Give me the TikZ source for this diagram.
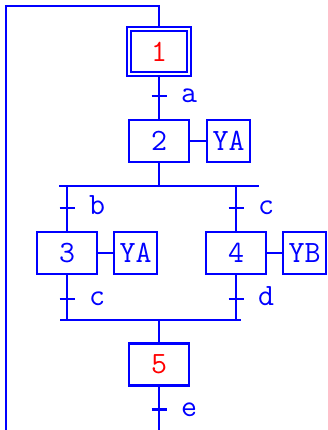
\documentclass[tikz,border=0pt]{standalone}
\usepackage{fontspec}
\usetikzlibrary{positioning}

\begin{document}
\begin{tikzpicture}[x=1pt,y=-1pt,line width=2.2pt,blue,node distance=17pt,font=\ttfamily\fontsize{31}{36}\selectfont]
\tikzstyle{stepbox}=[draw,rectangle,minimum width=60pt,minimum height=42pt,inner sep=0pt,outer sep=0pt]
\tikzstyle{initstep}=[stepbox,minimum height=45pt,double,double distance=2pt,outer sep=3pt]
\tikzstyle{actbox}=[draw,rectangle,minimum width=43pt,minimum height=42pt,inner sep=0pt,outer sep=0pt]
\tikzstyle{active}=[text=red]
\useasboundingbox (0,0) rectangle (327,430);
% steps
\node[initstep,active] (s1) at (159,51.5) {1};
\node[stepbox] (s2) at (159,141) {2};
\node[stepbox] (s3) at (67,253) {3};
\node[stepbox] (s4) at (236,253) {4};
\node[stepbox,active] (s5) at (159,364.5) {5};
% actions
\node[actbox,right=18pt of s2] (a2) {YA};
\node[actbox,right=17pt of s3] (a3) {YA};
\node[actbox,right=17pt of s4] (a4) {YB};
% transitions
\foreach \n/\x/\y/\l in {ta/159/96/a,tb/67/208/b,tc/236/208/c,td/67/299/c,te/236/299/d,tf/159/409.5/e}{
  \coordinate (\n) at (\x,\y);
  \draw ([xshift=-7.5pt]\n) -- ([xshift=7.5pt]\n);
  \node[anchor=base,inner sep=0pt] (l\n) at (\x+30,\y+6.5) {\l};
}
% divergence / convergence
\coordinate (dl) at (59,186);
\coordinate (dr) at (259,186);
\coordinate (cl) at (60,320);
\coordinate (cr) at (241,320);
\draw (dl) -- (dr);
\draw (cl) -- (cr);
% links
\draw (s1) -- (s2);
\draw (s2) -- (s2 |- dl);
\draw (s3 |- dl) -- (s3);
\draw (s4 |- dl) -- (s4);
\draw (s3) -- (s3 |- cl);
\draw (s4) -- (s4 |- cl);
\draw (s5 |- cl) -- (s5);
\draw (s2) -- (a2);
\draw (s3) -- (a3);
\draw (s4) -- (a4);
% loop back
\coordinate (bot) at (159,431);
\coordinate (lb) at (6,431);
\coordinate (lt) at (6,6);
\draw (s5) -- (bot);
\draw (lb) -- (lt) -| (s1);
\end{tikzpicture}
\end{document}
